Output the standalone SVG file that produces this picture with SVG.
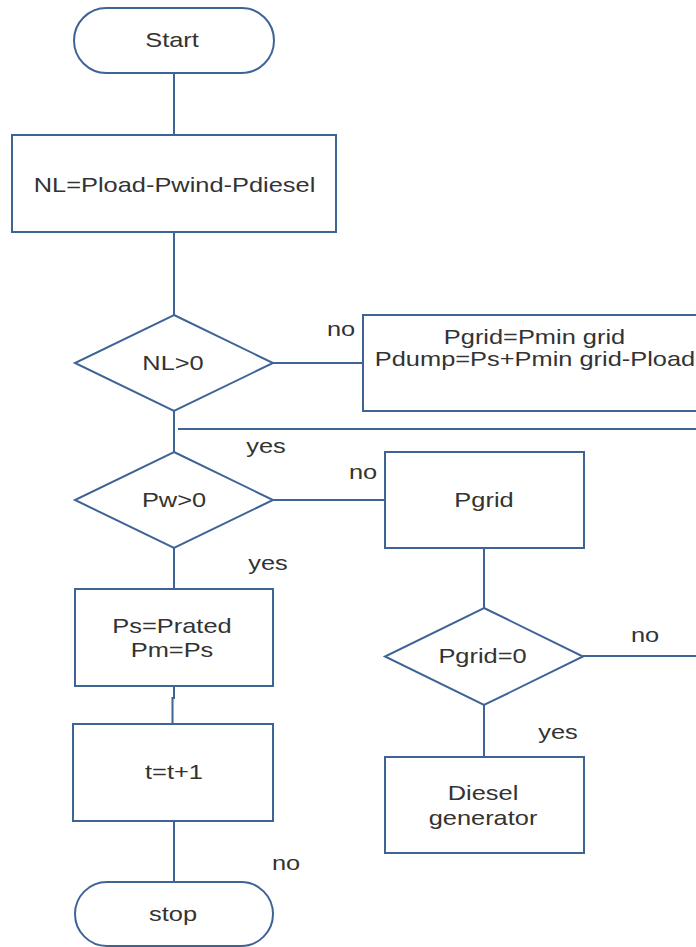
<svg xmlns="http://www.w3.org/2000/svg" width="696" height="947" viewBox="0 0 696 947">
  <style>
    .shape { fill: #ffffff; stroke: #3e6496; stroke-width: 2; }
    .wire { fill: none; stroke: #3e6496; stroke-width: 2; }
    .t { font-family: "Liberation Sans", Arial, sans-serif; font-size: 21px; fill: #333333; text-anchor: middle; }
  </style>
  <rect width="696" height="947" fill="#ffffff"/>

  <!-- connectors -->
  <g id="connectors">
    <path class="wire" d="M174 73 V135"/>
    <path class="wire" d="M174 232 V315"/>
    <path class="wire" d="M273 363 H363"/>
    <path class="wire" d="M174 411 V452"/>
    <path class="wire" d="M178 429 H696"/>
    <path class="wire" d="M273 500 H385"/>
    <path class="wire" d="M484 548 V608"/>
    <path class="wire" d="M583 656 H696"/>
    <path class="wire" d="M484 705 V757"/>
    <path class="wire" d="M174 548 V589"/>
    <path class="wire" d="M174 686 V698 H172.5 V724"/>
    <path class="wire" d="M174 821 V882"/>
    <text class="t" transform="translate(341 336) scale(1.21 1)">no</text>
    <text class="t" transform="translate(266 453) scale(1.21 1)">yes</text>
    <text class="t" transform="translate(363 479) scale(1.21 1)">no</text>
    <text class="t" transform="translate(268 570) scale(1.21 1)">yes</text>
    <text class="t" transform="translate(645 642) scale(1.21 1)">no</text>
    <text class="t" transform="translate(558 739) scale(1.21 1)">yes</text>
    <text class="t" transform="translate(286 870) scale(1.21 1)">no</text>
  </g>

  <g id="start">
    <rect class="shape" x="74" y="8" width="200" height="65" rx="32.5"/>
    <text class="t" transform="translate(172 47) scale(1.21 1)">Start</text>
  </g>

  <g id="net-load">
    <rect class="shape" x="12" y="135" width="324" height="97"/>
    <text class="t" transform="translate(174.5 192) scale(1.21 1)">NL=Pload-Pwind-Pdiesel</text>
  </g>

  <g id="nl-check">
    <polygon class="shape" points="174,315 273,363 174,411 75,363"/>
    <text class="t" transform="translate(173 370) scale(1.21 1)">NL&gt;0</text>
  </g>

  <g id="dump">
    <rect class="shape" x="363" y="315" width="345" height="96"/>
    <text class="t" transform="translate(534.5 344) scale(1.21 1)">Pgrid=Pmin grid</text>
    <text class="t" transform="translate(535 366) scale(1.21 1)">Pdump=Ps+Pmin grid-Pload</text>
  </g>

  <g id="pw-check">
    <polygon class="shape" points="174,452 273,500 174,548 75,500"/>
    <text class="t" transform="translate(174 507) scale(1.21 1)">Pw&gt;0</text>
  </g>

  <g id="pgrid">
    <rect class="shape" x="385" y="452" width="199" height="96"/>
    <text class="t" transform="translate(484 507) scale(1.21 1)">Pgrid</text>
  </g>

  <g id="pgrid-check">
    <polygon class="shape" points="484,608 583,656.5 484,705 385,656.5"/>
    <text class="t" transform="translate(482.5 663) scale(1.21 1)">Pgrid=0</text>
  </g>

  <g id="diesel">
    <rect class="shape" x="385" y="757" width="199" height="96"/>
    <text class="t" transform="translate(483 800) scale(1.21 1)">Diesel</text>
    <text class="t" transform="translate(483 825) scale(1.21 1)">generator</text>
  </g>

  <g id="rated">
    <rect class="shape" x="75" y="589" width="198" height="97"/>
    <text class="t" transform="translate(172 633) scale(1.21 1)">Ps=Prated</text>
    <text class="t" transform="translate(172 657) scale(1.21 1)">Pm=Ps</text>
  </g>

  <g id="step">
    <rect class="shape" x="73" y="724" width="200" height="97"/>
    <text class="t" transform="translate(174 779) scale(1.21 1)">t=t+1</text>
  </g>

  <g id="stop">
    <rect class="shape" x="75" y="882" width="198" height="64" rx="32"/>
    <text class="t" transform="translate(173 921) scale(1.21 1)">stop</text>
  </g>
</svg>
